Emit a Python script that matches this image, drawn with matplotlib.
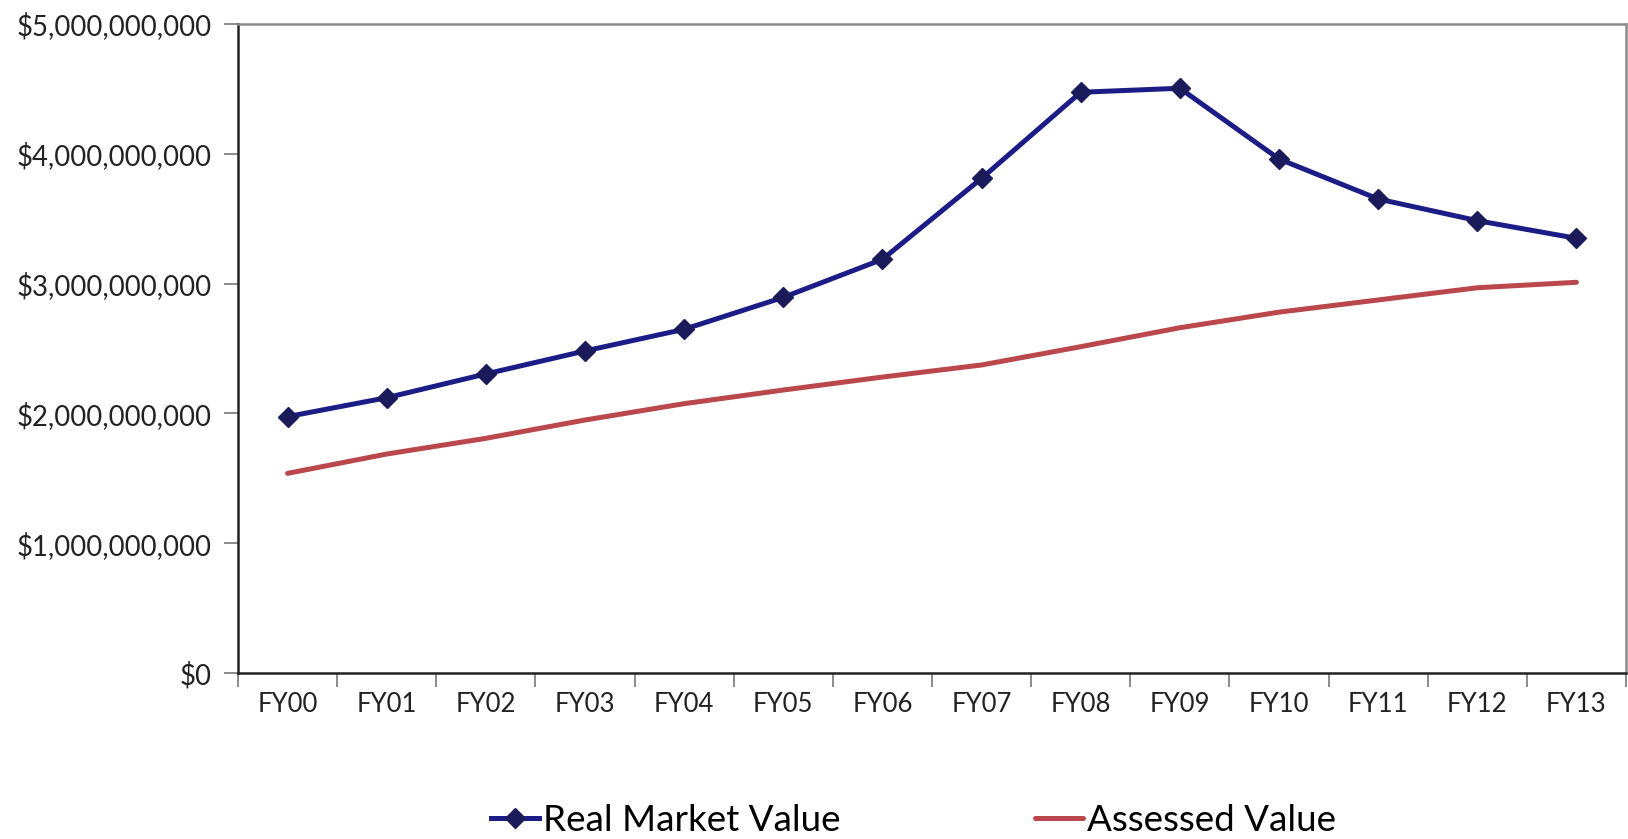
import matplotlib
matplotlib.use("Agg")
import matplotlib.pyplot as plt
from matplotlib.ticker import FuncFormatter, FixedLocator

categories = ["FY00", "FY01", "FY02", "FY03", "FY04", "FY05", "FY06",
              "FY07", "FY08", "FY09", "FY10", "FY11", "FY12", "FY13"]
real_market_value = [1.975e9, 2.121e9, 2.304e9, 2.481e9, 2.648e9, 2.894e9, 3.187e9,
                     3.811e9, 4.474e9, 4.505e9, 3.960e9, 3.652e9, 3.485e9, 3.349e9]
assessed_value = [1.538e9, 1.687e9, 1.808e9, 1.949e9, 2.075e9, 2.180e9, 2.280e9,
                  2.373e9, 2.514e9, 2.660e9, 2.780e9, 2.874e9, 2.968e9, 3.010e9]
y_ticks = [0, 1e9, 2e9, 3e9, 4e9, 5e9]

plt.rcParams['font.family'] = ['Lato', 'DejaVu Sans']

fig = plt.figure(figsize=(16.28, 8.39), dpi=100)
ax = fig.add_axes([238/1628, 1 - 673/839, (1626 - 238)/1628, (673 - 24)/839])

x = list(range(len(categories)))
ax.plot(x, real_market_value, color="#1c1c86", lw=3.6, marker="D", markersize=10.5,
        markerfacecolor="#1b1b5c", markeredgecolor="#1b1b5c", label="Real Market Value",
        solid_joinstyle="round")
ax.plot(x, assessed_value, color="#b9474c", lw=3.6, label="Assessed Value",
        solid_capstyle="round")

ax.set_xlim(-0.5, len(categories) - 0.5)
ax.set_ylim(0, 5e9)
ax.set_yticks(y_ticks)
ax.yaxis.set_major_formatter(FuncFormatter(lambda v, p: "${:,.0f}".format(v)))
ax.set_xticks(x)
ax.set_xticklabels(categories)
ax.xaxis.set_minor_locator(FixedLocator([i - 0.5 for i in range(len(categories) + 1)]))
ax.tick_params(axis="x", which="major", length=0, pad=14, labelsize=18.5, colors="#222222")
ax.tick_params(axis="x", which="minor", length=10, width=1.2, color="#777777")
ax.tick_params(axis="y", length=10, width=1.2, color="#777777", labelsize=19.8,
               labelcolor="#222222", pad=9)

ax.spines["left"].set_color("#222222")
ax.spines["bottom"].set_color("#222222")
ax.spines["left"].set_linewidth(1.8)
ax.spines["bottom"].set_linewidth(1.8)
ax.spines["top"].set_color("#8c8c8c")
ax.spines["right"].set_color("#8c8c8c")
ax.spines["top"].set_linewidth(1.8)
ax.spines["right"].set_linewidth(1.8)

leg = fig.legend(loc="center", bbox_to_anchor=(0.561, 0.022), ncol=2, frameon=False,
                 fontsize=26.5, columnspacing=5.3, handlelength=1.3, handletextpad=0.1,
                 borderpad=0)

fig.savefig("out.png", dpi=100, facecolor="white")
